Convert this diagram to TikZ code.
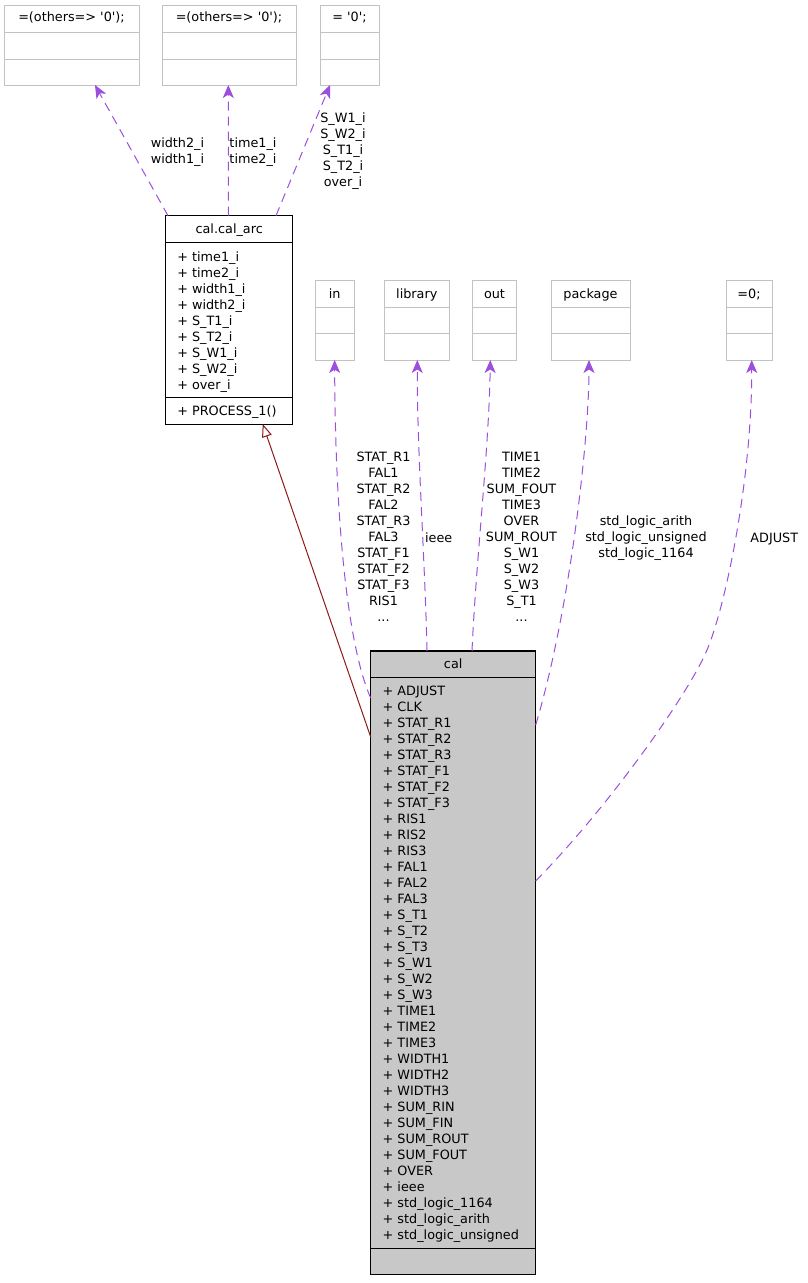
\documentclass[tikz,border=0pt]{standalone}
\usepackage{fontspec}
\setmainfont{DejaVu Sans}
\usetikzlibrary{arrows.meta,calc}
\definecolor{boxgray}{HTML}{C2C2C2}
\definecolor{calfill}{HTML}{C8C8C8}
\definecolor{usecol}{HTML}{9C4FDC}
\definecolor{inhcol}{HTML}{8B1A1A}
\begin{document}
\begin{tikzpicture}[x=1pt,y=-1pt,
  txt/.style={font=\fontsize{12.8}{16}\selectfont, inner sep=0pt, outer sep=0pt},
  lbox/.style={draw=boxgray, line width=1pt, fill=white, inner sep=0pt, outer sep=0pt, minimum height=80pt},
  dbox/.style={draw=black, line width=1pt, inner sep=0pt, outer sep=0pt},
  sep/.style={draw=boxgray, line width=1pt},
  dsep/.style={draw=black, line width=1pt},
  uses/.style={draw=usecol, line width=1pt, dash pattern=on 9pt off 6pt,
    -{Stealth[length=13pt,width=11pt,inset=3.5pt,sep=0pt]}},
  inherit/.style={draw=inhcol, line width=1pt,
    -{Triangle[open,length=13pt,width=10pt,fill=white]}}
]
\useasboundingbox (0,0) rectangle (808,1283);

% top row boxes
\node[lbox, minimum width=135pt] (A) at (71.5,45) {};
\node[lbox, minimum width=134pt] (B) at (229,45) {};
\node[lbox, minimum width=59pt] (C) at (349.5,45) {};
\foreach \n in {A,B,C}{
  \draw[sep] (\n.west |- 0,32) -- (\n.east |- 0,32);
  \draw[sep] (\n.west |- 0,59) -- (\n.east |- 0,59);
}
\node[txt, anchor=base] (At) at (71.5,21.8) {=(others=> \textquotesingle0\textquotesingle);};
\node[txt, anchor=base] (Bt) at (229,21.8) {=(others=> \textquotesingle0\textquotesingle);};
\node[txt, anchor=base] (Ct) at (349.5,21.8) {= \textquotesingle0\textquotesingle;};

% cal.cal_arc
\node[dbox, fill=white, minimum width=127pt, minimum height=208.3pt] (arc) at (229.2,319.85) {};
\draw[dsep] (arc.west |- 0,242.7) -- (arc.east |- 0,242.7);
\draw[dsep] (arc.west |- 0,397) -- (arc.east |- 0,397);
\node[txt, anchor=base] (arct) at (229.2,233.8) {cal.cal\_arc};
\node[txt, anchor=north west, align=left] (arcm) at (177.3,250) {\strut+ time1\_i\\+ time2\_i\\+ width1\_i\\+ width2\_i\\+ S\_T1\_i\\+ S\_T2\_i\\+ S\_W1\_i\\+ S\_W2\_i\\+ over\_i};
\node[txt, anchor=base west] (arcp) at (177.3,415.2) {+ PROCESS\_1()};

% middle row boxes
\node[lbox, minimum width=38.7pt] (in) at (334.65,320) {};
\node[lbox, minimum width=65pt] (lib) at (416.8,320) {};
\node[lbox, minimum width=44.4pt] (out) at (494.5,320) {};
\node[lbox, minimum width=79pt] (pkg) at (590.5,320) {};
\node[lbox, minimum width=46pt] (eq) at (749,320) {};
\foreach \n in {in,lib,out,pkg,eq}{
  \draw[sep] (\n.west |- 0,307.3) -- (\n.east |- 0,307.3);
  \draw[sep] (\n.west |- 0,333.3) -- (\n.east |- 0,333.3);
}
\node[txt, anchor=base] (int) at (334.65,298.5) {in};
\node[txt, anchor=base] (libt) at (416.8,298.5) {library};
\node[txt, anchor=base] (outt) at (494.5,298.5) {out};
\node[txt, anchor=base] (pkgt) at (590.5,298.5) {package};
\node[txt, anchor=base] (eqt) at (749,298.5) {=0;};

% cal
\node[dbox, fill=calfill, line width=1.2pt, minimum width=165pt, minimum height=623.7pt] (cal) at (453.2,962.85) {};
\draw[dsep] (cal.west |- 0,677.7) -- (cal.east |- 0,677.7);
\draw[dsep] (cal.west |- 0,1248) -- (cal.east |- 0,1248);
\node[txt, anchor=base] (calt) at (453.2,668.5) {cal};
\node[txt, anchor=north west, align=left] (calm) at (382.7,684) {\strut+ ADJUST\\+ CLK\\+ STAT\_R1\\+ STAT\_R2\\+ STAT\_R3\\+ STAT\_F1\\+ STAT\_F2\\+ STAT\_F3\\+ RIS1\\+ RIS2\\+ RIS3\\+ FAL1\\+ FAL2\\+ FAL3\\+ S\_T1\\+ S\_T2\\+ S\_T3\\+ S\_W1\\+ S\_W2\\+ S\_W3\\+ TIME1\\+ TIME2\\+ TIME3\\+ WIDTH1\\+ WIDTH2\\+ WIDTH3\\+ SUM\_RIN\\+ SUM\_FIN\\+ SUM\_ROUT\\+ SUM\_FOUT\\+ OVER\\+ ieee\\+ std\_logic\_1164\\+ std\_logic\_arith\\+ std\_logic\_unsigned};

% connectors: top
\draw[uses] ([xshift=2.3pt]arc.north west) -- ([xshift=23.5pt]A.south);
\draw[uses] ([xshift=-0.7pt]arc.north) -- ([xshift=-0.7pt]B.south);
\draw[uses] ([xshift=46.8pt]arc.north) -- ([xshift=-19.5pt]C.south);

% connectors: from cal
\draw[uses] ([yshift=-47pt]cal.north west) .. controls (345,640) and (335,500) .. (in.south);
\draw[uses] ([xshift=-26.2pt]cal.north) .. controls (425,560) and (417,450) .. ([xshift=0.5pt]lib.south);
\draw[uses] ([xshift=18.8pt]cal.north) .. controls (476,560) and (489,450) .. ([xshift=-4.2pt]out.south);
\draw[uses] ([yshift=-74pt]cal.north east) .. controls (570,610) and (589,440) .. ([xshift=-1.5pt]pkg.south);
\draw[uses] ([yshift=-230pt]cal.north east) .. controls (610,805) and (686,697) .. (705.7,653) .. controls (725,610) and (752,480) .. ([xshift=2.7pt]eq.south);
\draw[inherit] ([yshift=-86pt]cal.north west) -- ([xshift=33.5pt]arc.south);

% labels
\node[txt, anchor=north, align=center] (wl) at (177.5,136) {\strut width2\_i\\width1\_i};
\node[txt, anchor=north, align=center] (tl) at (253,136) {\strut time1\_i\\time2\_i};
\node[txt, anchor=north, align=center] (sl) at (343,111.6) {\strut S\_W1\_i\\S\_W2\_i\\S\_T1\_i\\S\_T2\_i\\over\_i};
\node[txt, anchor=north, align=center] (inl) at (383.5,450.6) {\strut STAT\_R1\\FAL1\\STAT\_R2\\FAL2\\STAT\_R3\\FAL3\\STAT\_F1\\STAT\_F2\\STAT\_F3\\RIS1\\...};
\node[txt, anchor=base] (libl) at (438.7,542.2) {ieee};
\node[txt, anchor=north, align=center] (outl) at (521.5,450.6) {\strut TIME1\\TIME2\\SUM\_FOUT\\TIME3\\OVER\\SUM\_ROUT\\S\_W1\\S\_W2\\S\_W3\\S\_T1\\...};
\node[txt, anchor=north, align=center] (pkgl) at (646,514.3) {\strut std\_logic\_arith\\std\_logic\_unsigned\\std\_logic\_1164};
\node[txt, anchor=base] (eql) at (774.3,542.2) {ADJUST};
\end{tikzpicture}
\end{document}
